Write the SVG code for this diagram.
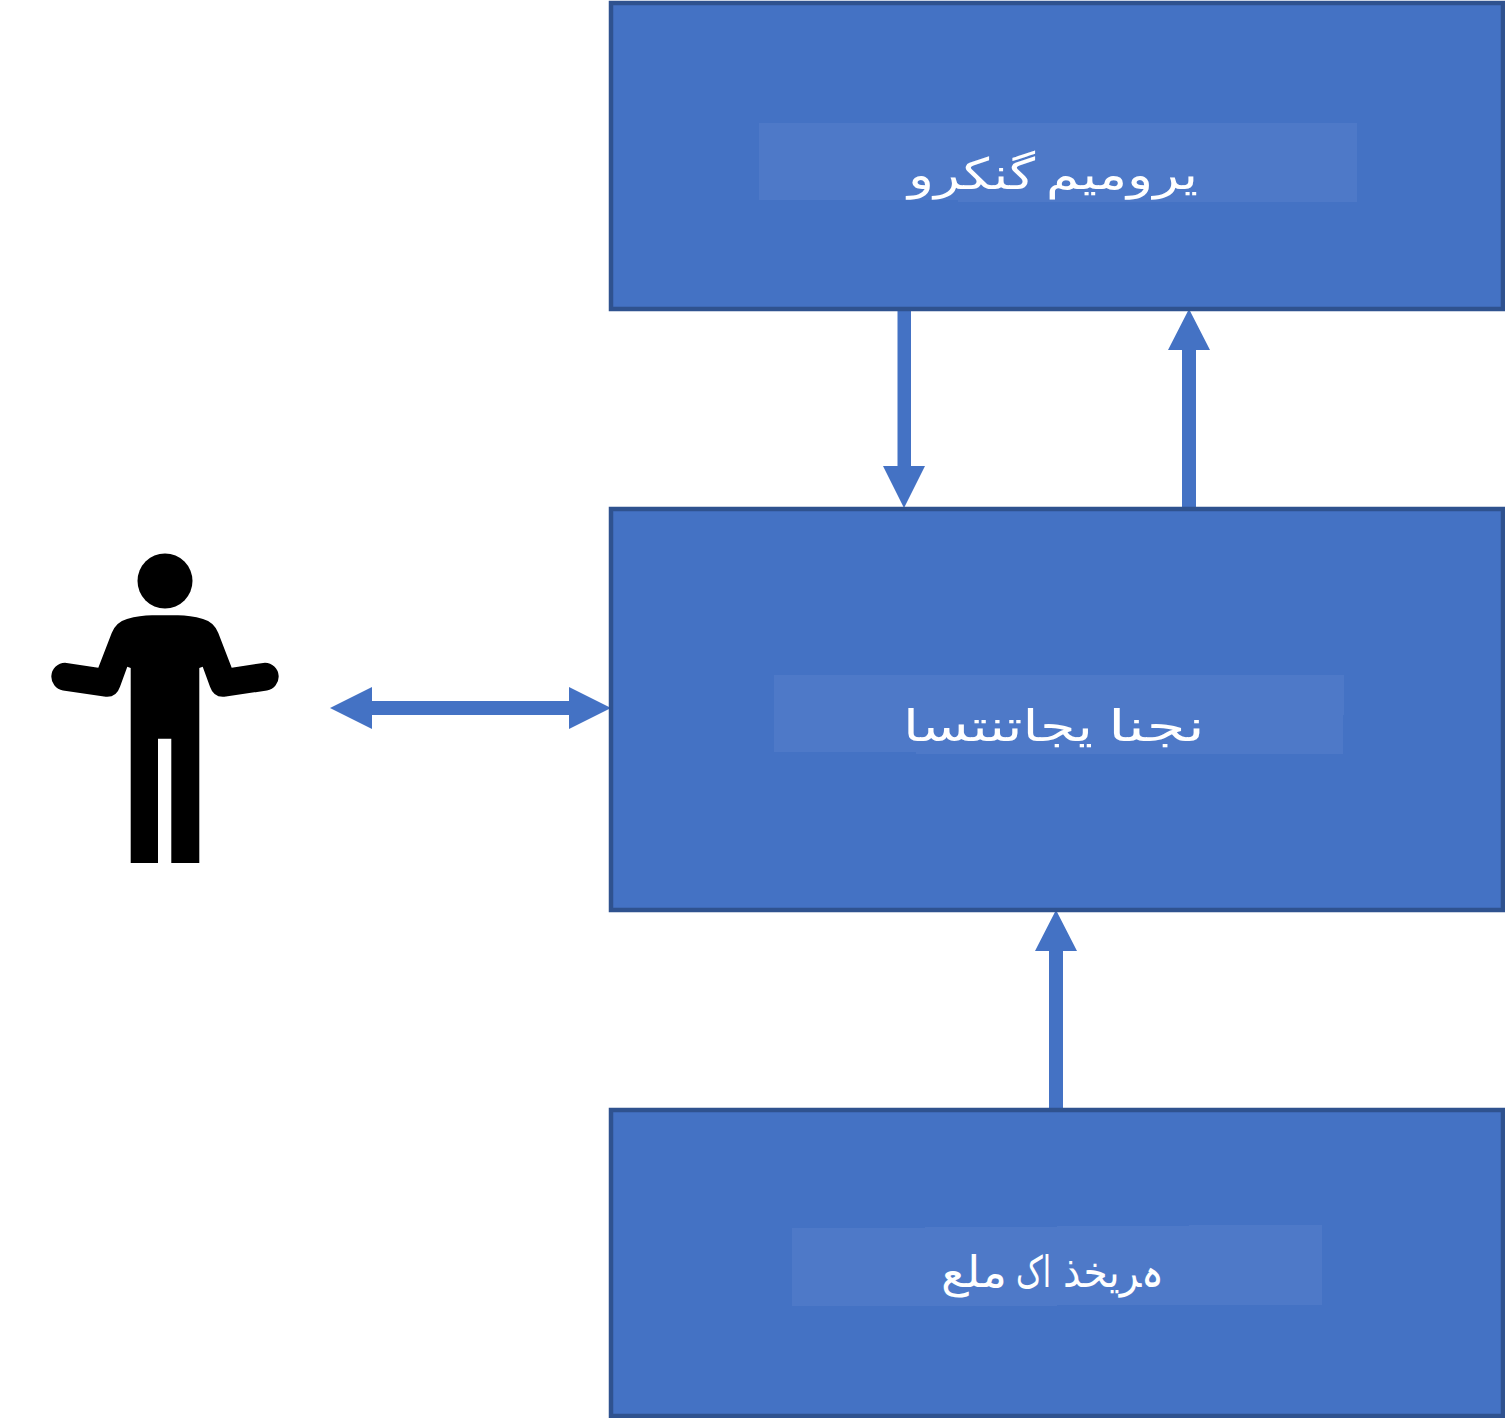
<svg xmlns="http://www.w3.org/2000/svg" width="1505" height="1418" viewBox="0 0 1505 1418">
<style>
.box{fill:#4472C4;stroke:#2F528F;stroke-width:4.5}
.panel{fill:#4E79C8}
.lbl{font-family:"DejaVu Sans","Noto Sans",sans-serif;font-size:43px;fill:#FFFFFF;direction:ltr;unicode-bidi:bidi-override}
.arrow{fill:#4472C4}
</style>
<rect width="1505" height="1418" fill="#FFFFFF"/>
<g id="connectors">
<path class="arrow" d="M897.500 309H911V466H925L904 508L883 466H897.500Z"/>
<path class="arrow" d="M1182 508H1196V350H1210L1189 309L1168 350H1182Z"/>
<path class="arrow" d="M1049 1109H1063V951H1077L1056 910L1035 951H1049Z"/>
<path class="arrow" d="M330 708L372 687V701H569V687L611 708L569 729V715H372V729Z"/>
</g>
<g id="node-working-memory">
<rect class="box" x="611" y="3" width="892" height="306"/>
<path class="panel" d="M759 123H1357V202H958V200H759Z"/>
<text class="lbl" y="189"><tspan x="908" textLength="127" lengthAdjust="spacingAndGlyphs">ورکنگ</tspan> <tspan x="1046" textLength="152" lengthAdjust="spacingAndGlyphs">میموری</tspan></text>
</g>
<g id="node-inference-engine">
<rect class="box" x="611" y="509" width="892" height="401"/>
<path class="panel" d="M774 675H1344V715H1343V754H916V752H774Z"/>
<text class="lbl" y="741"><tspan x="903" textLength="190" lengthAdjust="spacingAndGlyphs">استنتاجی</tspan> <tspan x="1108" textLength="97" lengthAdjust="spacingAndGlyphs">انجن</tspan></text>
</g>
<g id="node-knowledge-base">
<rect class="box" x="611" y="1110" width="892" height="306"/>
<path class="panel" d="M792 1228H925V1227H1057V1226H1189V1225H1322V1305H1057V1306H792Z"/>
<text class="lbl" y="1287"><tspan x="941" textLength="66" lengthAdjust="spacingAndGlyphs">علم</tspan> <tspan x="1016" textLength="35" lengthAdjust="spacingAndGlyphs">کا</tspan> <tspan x="1063" textLength="101" lengthAdjust="spacingAndGlyphs">ذخیرہ</tspan></text>
</g>
<g id="node-person">
<circle cx="165" cy="581" r="27.500"/>
<path d="M130.700 863V668L127.300 666.700L120 686.700Q116 698.500 104 696.500L63 690.500A14 14 0 0 1 65 662.700L98.300 667.700L111.700 633Q116 622 127 619Q140 615.300 152 615.300H178Q190 615.300 203 619Q214 622 218.300 633L231.700 667.700L265 662.700A14 14 0 0 1 267 690.500L226 696.500Q214 698.500 210 686.700L202.700 666.700L199.300 668V863H171.300V738.700H158V863Z"/>
</g>
</svg>
